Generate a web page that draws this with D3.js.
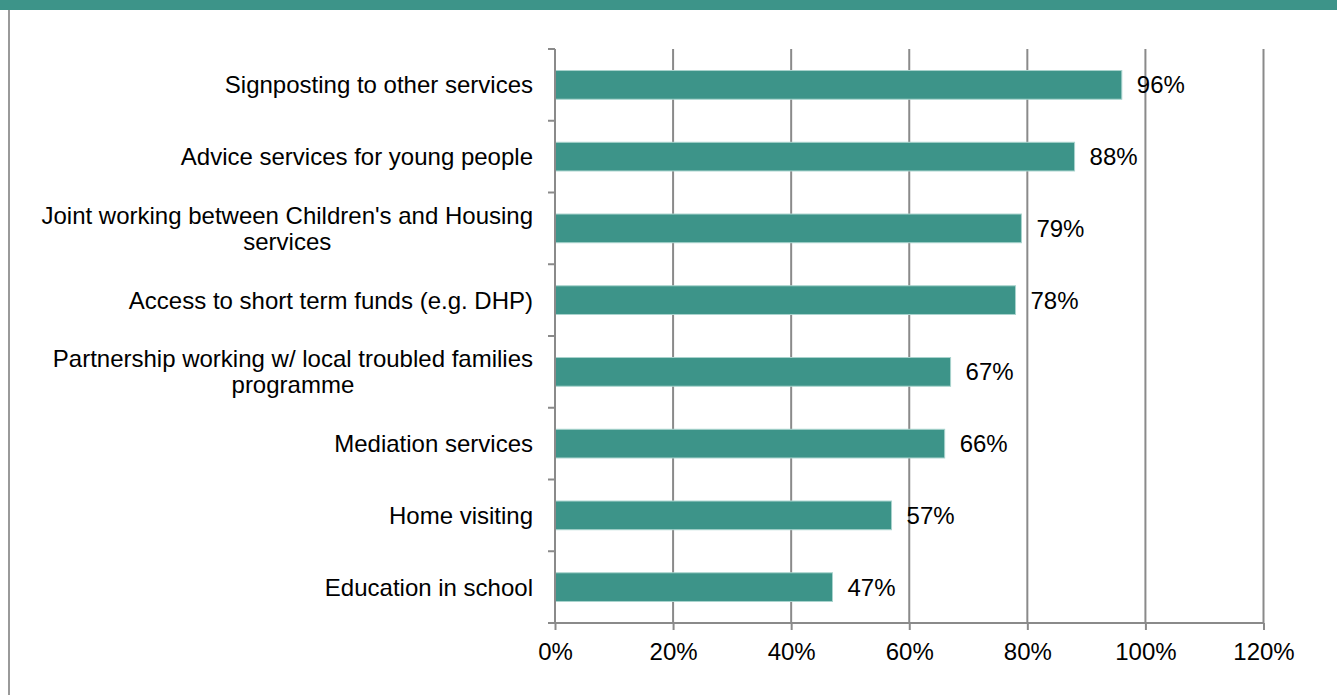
<!DOCTYPE html>
<html><head><meta charset="utf-8">
<script src="https://cdn.jsdelivr.net/npm/d3@7"></script>
<style>
html,body{margin:0;padding:0;background:#fff;}
svg{display:block;font-family:"Liberation Sans",Arial,sans-serif;}
</style></head>
<body>
<svg id="chart" width="1337" height="695"></svg>
<script>
const categories = [
  "Signposting to other services",
  "Advice services for young people",
  "Joint working between Children's and Housing\nservices",
  "Access to short term funds (e.g. DHP)",
  "Partnership working w/ local troubled families\nprogramme",
  "Mediation services",
  "Home visiting",
  "Education in school"
];
const values = [0.96, 0.88, 0.79, 0.78, 0.67, 0.66, 0.57, 0.47];
const xTicks = [0, 0.2, 0.4, 0.6, 0.8, 1.0, 1.2];

(function(){
const svg = d3.select("#chart");
const teal = "#3d9489";
const grid = "#8a8a8a";
const fs = 24;

svg.append("rect").attr("x",0).attr("y",0).attr("width",1337).attr("height",10).attr("fill",teal);
svg.append("line").attr("x1",9).attr("x2",9).attr("y1",10).attr("y2",695).attr("stroke","#9a9a9a").attr("stroke-width",2);

const pL = 555, pR = 1263.5, pT = 49, pB = 623;
const x = d3.scaleLinear().domain([0, 1.2]).range([pL, pR]);
const y = d3.scaleBand().domain(categories).range([pT, pB]).paddingInner(0.6).paddingOuter(0.3);
const band = d3.scaleBand().domain(categories).range([pT, pB]);

svg.append("g").selectAll("line").data(xTicks.slice(1)).join("line")
  .attr("x1", d => x(d)).attr("x2", d => x(d))
  .attr("y1", pT).attr("y2", pB)
  .attr("stroke", grid).attr("stroke-width", 2);

svg.append("g").selectAll("rect").data(values).join("rect")
  .attr("x", x(0)).attr("y", (d,i) => y(categories[i]))
  .attr("width", d => x(d) - x(0)).attr("height", y.bandwidth())
  .attr("fill", teal).attr("stroke", "#a9d3cd").attr("stroke-width", 1);

const xAxis = d3.axisBottom(x).tickValues(xTicks).tickFormat(d3.format(".0%")).tickSize(7).tickSizeOuter(0).tickPadding(13);
const gx = svg.append("g").attr("transform", `translate(0,${pB})`).call(xAxis);
gx.select(".domain").attr("stroke", grid).attr("stroke-width", 2).attr("d", `M${pL-7},0H${pR}`);
gx.selectAll(".tick line").attr("stroke", grid).attr("stroke-width", 2);
gx.selectAll(".tick text").attr("font-size", fs).attr("fill", "#000").attr("font-family", "Liberation Sans, Arial, sans-serif");

svg.append("line").attr("x1", pL).attr("x2", pL).attr("y1", pT).attr("y2", pB).attr("stroke", grid).attr("stroke-width", 2);
const bounds = categories.map(c => band(c));
svg.append("g").selectAll("line").data(bounds).join("line")
  .attr("x1", pL-7).attr("x2", pL).attr("y1", d => d).attr("y2", d => d)
  .attr("stroke", grid).attr("stroke-width", 2);

const lab = svg.append("g").attr("font-size", fs).attr("fill", "#000");
categories.forEach((c, i) => {
  const lines = c.split("\n");
  const cy = band(c) + band.bandwidth()/2;
  const lh = 26;
  const t = lab.append("text").attr("text-anchor", "end");
  lines.forEach((ln, j) => {
    t.append("tspan").attr("x", 533).attr("y", cy + (j - (lines.length-1)/2) * lh).attr("dy", "0.35em").text(ln);
  });
  if (lines.length > 1) {
    const tsp = t.selectAll("tspan").nodes();
    const w = d3.max(tsp.map(n => n.getComputedTextLength()));
    t.attr("text-anchor", "middle");
    tsp.forEach(n => d3.select(n).attr("x", 533 - w/2));
  }
});

svg.append("g").selectAll("text").data(values).join("text")
  .attr("x", d => x(d) + 15)
  .attr("y", (d,i) => band(categories[i]) + band.bandwidth()/2)
  .attr("dy", "0.35em").attr("font-size", fs).attr("fill", "#000")
  .text(d => d3.format(".0%")(d));
})();
</script>
</body></html>
